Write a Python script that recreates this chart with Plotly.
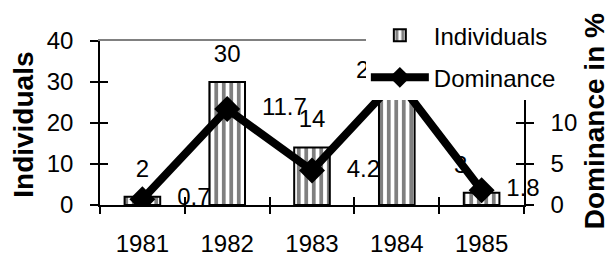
import plotly.graph_objects as go

years = ["1981", "1982", "1983", "1984", "1985"]
individuals = [2, 30, 14, 26, 3]
dominance = [0.7, 11.7, 4.2, 15.3, 1.8]
left_ticks = [0, 10, 20, 30, 40]
right_ticks = [0, 5, 10]
left_title = "Individuals"
right_title = "Dominance in %"

FONT = "Liberation Sans, Arial, sans-serif"

fig = go.Figure()

fig.add_trace(go.Bar(
    x=years, y=individuals, name="Individuals", width=0.42,
    marker=dict(color="white", line=dict(color="black", width=2),
                pattern=dict(shape="|", fgcolor="black", bgcolor="white", size=7.5, solidity=0.5)),
    xaxis="x", yaxis="y", legendgroup="a",
))
fig.add_trace(go.Scatter(
    x=years, y=dominance, name="Dominance", mode="lines+markers",
    line=dict(color="black", width=8),
    marker=dict(symbol="diamond", size=20, color="black"),
    xaxis="x", yaxis="y2", legendgroup="b",
))
# bar value labels
fig.add_trace(go.Scatter(
    x=years, y=individuals, mode="markers+text", text=[str(v) for v in individuals],
    textposition=["top center", "top center", "top center", "top left", "top left"],
    marker=dict(size=21, opacity=0), textfont=dict(size=24, color="black", family=FONT),
    cliponaxis=False, showlegend=False, hoverinfo="skip", xaxis="x", yaxis="y",
))
# dominance value labels
fig.add_trace(go.Scatter(
    x=years, y=dominance, mode="markers+text", text=[str(v) for v in dominance],
    textposition="middle right",
    marker=dict(size=[54, 54, 54, 54, 38], opacity=0), textfont=dict(size=24, color="black", family=FONT),
    cliponaxis=False, showlegend=False, hoverinfo="skip", xaxis="x", yaxis="y2",
))
# helper empty traces for overlay axes (crossing ticks / top border)
fig.add_trace(go.Scatter(x=[], y=[], xaxis="x2", yaxis="y3", showlegend=False, hoverinfo="skip"))
fig.add_trace(go.Scatter(x=[], y=[], xaxis="x3", yaxis="y4", showlegend=False, hoverinfo="skip"))

axfont = dict(size=24, color="black", family=FONT)
common = dict(showgrid=False, zeroline=False, automargin=False, fixedrange=True)
fig.update_layout(
    width=611, height=257,
    margin=dict(l=100, r=87, t=41, b=52, autoexpand=False),
    paper_bgcolor="white", plot_bgcolor="white",
    font=dict(family=FONT, size=24, color="black"),
    showlegend=True,
    legend=dict(x=0.627, xanchor="left", y=0.64, yanchor="bottom",
                bgcolor="white", borderwidth=0, font=dict(size=24, family=FONT, color="black"),
                itemwidth=58, tracegroupgap=8, traceorder="grouped"),
    xaxis=dict(type="category", range=[-0.5, 4.5], showline=True, linecolor="black", linewidth=1.5,
               ticks="outside", ticklen=7, tickwidth=1.5, tickcolor="black", tickson="boundaries",
               tickfont=axfont, ticklabelstandoff=16, **common),
    xaxis2=dict(overlaying="x", anchor="y", range=[-0.5, 4.5], tickvals=[-0.5, 0.5, 1.5, 2.5, 3.5, 4.5],
                ticks="inside", ticklen=8, tickwidth=1.5, tickcolor="black", showticklabels=False,
                showline=False, side="bottom", **common),
    xaxis3=dict(overlaying="x", anchor="y", side="top", range=[-0.5, 4.5], showline=True,
                linecolor="#808080", linewidth=2, ticks="", showticklabels=False, **common),
    yaxis=dict(range=[0, 40], tickvals=left_ticks, showline=True, linecolor="black", linewidth=1.5,
               ticks="outside", ticklen=8, tickwidth=1.5, tickcolor="black", tickfont=axfont,
               ticklabelstandoff=12, **common),
    yaxis3=dict(overlaying="y", anchor="x", side="left", range=[0, 40], tickvals=left_ticks,
                ticks="inside", ticklen=8, tickwidth=1.5, tickcolor="black", showticklabels=False,
                showline=False, **common),
    yaxis2=dict(overlaying="y", anchor="x", side="right", range=[0, 20], tickvals=right_ticks,
                showline=True, linecolor="black", linewidth=1.5,
                ticks="outside", ticklen=8, tickwidth=1.5, tickcolor="black", tickfont=axfont,
                ticklabelstandoff=12, **common),
    yaxis4=dict(overlaying="y", anchor="x", side="right", range=[0, 20], tickvals=right_ticks,
                ticks="inside", ticklen=8, tickwidth=1.5, tickcolor="black", showticklabels=False,
                showline=False, **common),
    annotations=[
        dict(text="<b>" + left_title + "</b>", xref="paper", yref="paper", x=-0.179, y=0.49,
             xanchor="center", yanchor="middle", textangle=-90, showarrow=False,
             font=dict(size=28, family=FONT, color="black")),
        dict(text="<b>" + right_title + "</b>", xref="paper", yref="paper", x=1.167, y=0.509,
             xanchor="center", yanchor="middle", textangle=-90, showarrow=False,
             font=dict(size=28, family=FONT, color="black")),
    ],
)

fig.write_html("out.html", config={"displayModeBar": False},
               post_script="document.body.style.margin='0';document.body.style.overflow='hidden';")
